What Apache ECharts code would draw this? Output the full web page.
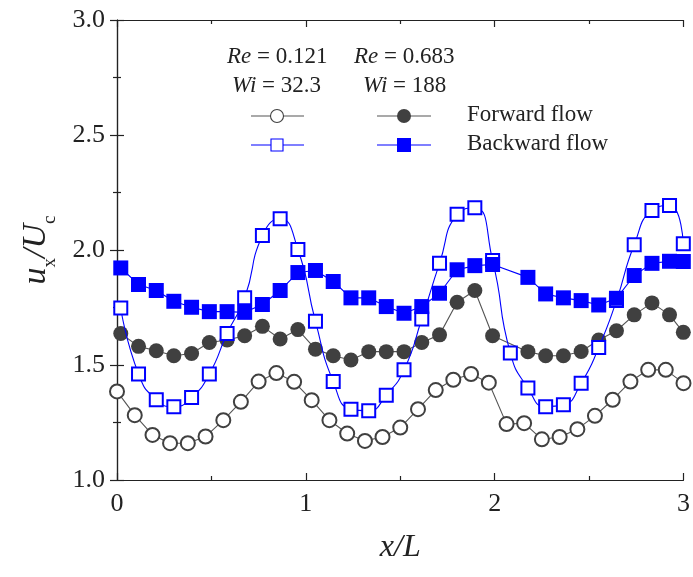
<!DOCTYPE html>
<html><head><meta charset="utf-8">
<script src="https://cdn.jsdelivr.net/npm/echarts@6/dist/echarts.min.js"></script>
<style>html,body{margin:0;padding:0;background:#fff}#c{width:693px;height:577px}</style>
</head><body><div id="c"></div>
<script>
// x positions (x/L)
const xOpenCircle = [0, 0.094, 0.188, 0.281, 0.375, 0.469, 0.563, 0.656, 0.75, 0.844, 0.938, 1.031, 1.125, 1.219, 1.313, 1.406, 1.5, 1.594, 1.688, 1.781, 1.875, 1.969, 2.063, 2.156, 2.25, 2.344, 2.438, 2.531, 2.625, 2.719, 2.813, 2.906, 3.0];
const xOther = [0.02, 0.114, 0.208, 0.301, 0.395, 0.489, 0.583, 0.676, 0.77, 0.864, 0.958, 1.051, 1.145, 1.239, 1.333, 1.426, 1.52, 1.614, 1.708, 1.801, 1.895, 1.989, 2.083, 2.176, 2.27, 2.364, 2.458, 2.551, 2.645, 2.739, 2.833, 2.926, 2.999];
// Re = 0.121, Wi = 32.3 forward flow (open circles)
const yForwardLow = [1.385, 1.282, 1.196, 1.160, 1.160, 1.189, 1.260, 1.340, 1.428, 1.465, 1.427, 1.347, 1.260, 1.202, 1.170, 1.187, 1.228, 1.308, 1.391, 1.436, 1.461, 1.423, 1.243, 1.247, 1.177, 1.187, 1.221, 1.279, 1.349, 1.428, 1.479, 1.479, 1.421];
// Re = 0.683, Wi = 188 forward flow (filled circles); null = no point
const yForwardHigh = [1.637, 1.581, 1.562, 1.540, 1.550, 1.598, 1.609, 1.627, 1.668, 1.613, 1.654, 1.569, 1.540, 1.522, 1.558, 1.558, 1.558, 1.598, 1.631, 1.773, 1.824, 1.627, null, 1.558, 1.540, 1.540, 1.559, 1.609, 1.649, 1.718, 1.770, 1.718, 1.642];
// Re = 0.121 backward flow (open squares)
const yBackwardLow = [1.748, 1.461, 1.349, 1.319, 1.359, 1.461, 1.637, 1.792, 2.063, 2.136, 2.002, 1.690, 1.428, 1.308, 1.301, 1.369, 1.479, 1.700, 1.942, 2.155, 2.184, 1.954, 1.552, 1.400, 1.319, 1.327, 1.421, 1.576, 1.780, 2.023, 2.172, 2.194, 2.027];
// Re = 0.683 backward flow (filled squares)
const yBackwardHigh = [1.922, 1.850, 1.824, 1.777, 1.751, 1.732, 1.732, 1.729, 1.763, 1.824, 1.902, 1.911, 1.863, 1.792, 1.792, 1.754, 1.725, 1.754, 1.812, 1.914, 1.932, 1.937, null, 1.881, 1.809, 1.792, 1.780, 1.761, 1.790, 1.889, 1.942, 1.951, 1.950];

const xTicks = ['0', '1', '2', '3'];
const yTicks = ['1.0', '1.5', '2.0', '2.5', '3.0'];

function pairs(xs, ys) {
  const out = [];
  for (let i = 0; i < xs.length; i++) if (ys[i] !== null) out.push([xs[i], ys[i]]);
  return out;
}

const SERIF = '"Liberation Serif", "DejaVu Serif", serif';
const GRAY = '#404040';
const BLUE = '#0000ff';

const chart = echarts.init(document.getElementById('c'), null, {renderer: 'canvas'});

const axisCommon = {
  axisLine: {show: true, lineStyle: {color: '#222', width: 1.2}},
  axisTick: {show: true, inside: true, length: 7, lineStyle: {color: '#222', width: 1.2}},
  minorTick: {show: true, splitNumber: 2, length: 4, lineStyle: {color: '#222', width: 1.2}},
  splitLine: {show: false}
};

const legendRich = {
  i: {fontFamily: SERIF, fontSize: 23, fontStyle: 'italic', fill: '#222'},
  n: {fontFamily: SERIF, fontSize: 23, fill: '#222'}
};

chart.setOption({
  animation: false,
  backgroundColor: '#fff',
  grid: {left: 117, right: 5, top: 20, bottom: 97, containLabel: false},
  xAxis: [
    Object.assign({}, axisCommon, {
      type: 'value', min: 0, max: 3, interval: 1, position: 'bottom',
      axisLabel: {fontFamily: SERIF, fontSize: 26, color: '#222', margin: 11,
        formatter: v => xTicks[Math.round(v)]},
      name: '{i|x/L}', nameLocation: 'middle', nameGap: 52,
      nameTextStyle: {rich: {i: {fontFamily: SERIF, fontSize: 32, fontStyle: 'italic', color: '#222'}}}
    }),
    Object.assign({}, axisCommon, {
      type: 'value', min: 0, max: 3, interval: 1, position: 'top',
      axisLabel: {show: false}
    })
  ],
  yAxis: [
    Object.assign({}, axisCommon, {
      type: 'value', min: 1, max: 3, interval: 0.5, position: 'left',
      axisLabel: {fontFamily: SERIF, fontSize: 26, color: '#222', margin: 12,
        formatter: v => yTicks[Math.round((v - 1) / 0.5)]},
      name: '{i|u}{s|x}{i|/U}{s|c}', nameLocation: 'middle', nameGap: 64, nameRotate: 90,
      nameTextStyle: {rich: {
        i: {fontFamily: SERIF, fontSize: 34, fontStyle: 'italic', color: '#222', lineHeight: 40, verticalAlign: 'bottom'},
        s: {fontFamily: SERIF, fontSize: 19, color: '#222', lineHeight: 40, verticalAlign: 'bottom', padding: [0, 0, -7, 0]}
      }}
    }),
    Object.assign({}, axisCommon, {
      type: 'value', min: 1, max: 3, interval: 0.5, position: 'right',
      axisLabel: {show: false}
    })
  ],
  series: [
    {
      name: 'Forward flow Re=0.121', type: 'line', data: pairs(xOpenCircle, yForwardLow),
      symbol: 'emptyCircle', symbolSize: 14, clip: true,
      lineStyle: {color: '#555', width: 1.1},
      itemStyle: {color: GRAY, borderColor: GRAY, borderWidth: 1.1}, z: 2
    },
    {
      name: 'Forward flow Re=0.683', type: 'line', data: pairs(xOther, yForwardHigh),
      symbol: 'circle', symbolSize: 15, clip: true,
      lineStyle: {color: '#555', width: 1.1},
      itemStyle: {color: GRAY}, z: 3
    },
    {
      name: 'Backward flow Re=0.121', type: 'line', data: pairs(xOther, yBackwardLow),
      symbol: 'emptyRect', symbolSize: 13, smooth: 0.55, clip: true,
      lineStyle: {color: BLUE, width: 1.1},
      itemStyle: {color: BLUE, borderColor: BLUE, borderWidth: 1.1}, z: 4
    },
    {
      name: 'Backward flow Re=0.683', type: 'line', data: pairs(xOther, yBackwardHigh),
      symbol: 'rect', symbolSize: 15, clip: true,
      lineStyle: {color: BLUE, width: 1.1},
      itemStyle: {color: BLUE}, z: 5
    }
  ],
  graphic: [
    {type: 'text', left: 227, top: 45, style: {rich: legendRich, text: '{i|Re}{n| = 0.121}'}},
    {type: 'text', left: 354, top: 45, style: {rich: legendRich, text: '{i|Re}{n| = 0.683}'}},
    {type: 'text', left: 232, top: 74, style: {rich: legendRich, text: '{i|Wi}{n| = 32.3}'}},
    {type: 'text', left: 363, top: 74, style: {rich: legendRich, text: '{i|Wi}{n| = 188}'}},
    // legend row 1
    {type: 'line', shape: {x1: 251, y1: 116, x2: 304, y2: 116}, style: {stroke: '#555', lineWidth: 1.1}},
    {type: 'circle', shape: {cx: 277, cy: 116, r: 6.5}, style: {fill: '#fff', stroke: GRAY, lineWidth: 1.1}},
    {type: 'line', shape: {x1: 377, y1: 116, x2: 431, y2: 116}, style: {stroke: '#555', lineWidth: 1.1}},
    {type: 'circle', shape: {cx: 404, cy: 116, r: 7}, style: {fill: GRAY}},
    {type: 'text', left: 467, top: 103, style: {text: 'Forward flow', fontFamily: SERIF, fontSize: 23, fill: '#222'}},
    // legend row 2
    {type: 'line', shape: {x1: 251, y1: 145, x2: 304, y2: 145}, style: {stroke: BLUE, lineWidth: 1.1}},
    {type: 'rect', shape: {x: 271, y: 139, width: 12, height: 12}, style: {fill: '#fff', stroke: BLUE, lineWidth: 1.1}},
    {type: 'line', shape: {x1: 377, y1: 145, x2: 431, y2: 145}, style: {stroke: BLUE, lineWidth: 1.1}},
    {type: 'rect', shape: {x: 397, y: 138, width: 14, height: 14}, style: {fill: BLUE}},
    {type: 'text', left: 467, top: 132, style: {text: 'Backward flow', fontFamily: SERIF, fontSize: 23, fill: '#222'}}
  ]
});
</script>
</body></html>
